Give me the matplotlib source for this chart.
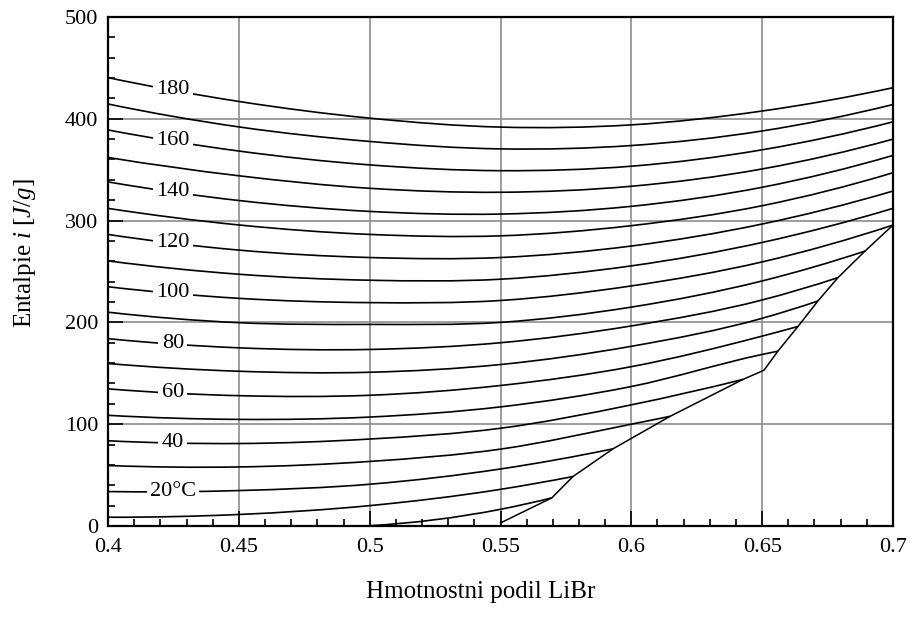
import numpy as np
import matplotlib
matplotlib.use("Agg")
import matplotlib.pyplot as plt
from matplotlib.ticker import MultipleLocator
from matplotlib.path import Path
from matplotlib.patches import PathPatch

plt.rcParams['font.family'] = ['Liberation Serif', 'DejaVu Serif']
plt.rcParams['mathtext.fontset'] = 'custom'
plt.rcParams['mathtext.rm'] = 'Liberation Serif'
plt.rcParams['mathtext.it'] = 'Liberation Serif:italic'

# mass fraction of LiBr where the enthalpy was read
conc = [0.40, 0.45, 0.50, 0.55, 0.60, 0.65, 0.70]

# isotherms, degC
temps = [180, 170, 160, 150, 140, 130, 120, 110, 100,
         90, 80, 70, 60, 50, 40, 30, 20, 10, 0]

nan = np.nan
# enthalpy [J/g] at conc, nan past the crystallization line
enthalpy = [
    [440.4, 417.0, 400.6, 391.8, 394.0, 407.6, 430.5],
    [414.5, 392.0, 377.7, 370.4, 373.7, 388.0, 414.0],
    [389.0, 368.3, 354.7, 349.0, 353.4, 369.5, 397.0],
    [362.0, 344.0, 331.7, 327.8, 333.7, 350.7, 380.0],
    [338.0, 319.7, 309.0, 306.4, 314.0, 332.7, 364.0],
    [312.0, 295.7, 286.4, 285.0, 295.0, 314.6, 347.0],
    [286.4, 271.0, 263.7, 263.7, 275.0, 296.6, 329.0],
    [260.4, 247.3, 241.4, 242.4, 255.5, 278.5, 312.0],
    [235.0, 223.6, 219.4, 221.5, 235.8, 259.4, nan],
    [210.0, 199.7, 198.0, 200.0, 215.0, 240.7, nan],
    [184.0, 175.0, 173.4, 180.0, 196.5, 222.0, nan],
    [159.6, 152.0, 151.0, 158.6, 176.5, 204.0, nan],
    [134.7, 128.0, 128.4, 138.0, 156.5, 186.5, nan],
    [108.7, 104.7, 107.0, 117.0, 137.0, 168.5, nan],
    [83.7, 81.0, 85.4, 96.0, 119.0, nan, nan],
    [59.4, 58.0, 63.4, 75.5, 100.0, nan, nan],
    [33.8, 34.8, 41.0, 56.0, nan, nan, nan],
    [8.6, 11.3, 20.0, 36.0, nan, nan, nan],
    [nan, nan, 0.3, 16.4, nan, nan, nan],
]

# crystallization line
cryst_x = [0.550, 0.5696, 0.5777, 0.593, 0.6148, 0.6427, 0.6507,
           0.656, 0.6637, 0.6713, 0.679, 0.6893, 0.700]
cryst_y = [3.0, 27.6, 48.6, 75.8, 107.7, 144.0, 153.0,
           171.7, 196.0, 221.0, 244.0, 270.0, 295.6]

# where each isotherm ends on the crystallization line (index into cryst_x)
end_idx = {100: 12, 90: 11, 80: 10, 70: 9, 60: 8, 50: 7, 40: 5,
           30: 4, 20: 3, 10: 2, 0: 1}

labels = {180: "180", 160: "160", 140: "140", 120: "120", 100: "100",
          80: "80", 60: "60", 40: "40", 20: "20°C"}


def smooth_path(xs, ys):
    # cubic bezier through the points (hermite tangents), drawn by matplotlib
    x = np.asarray(xs, float)
    y = np.asarray(ys, float)
    n = len(x)
    h = np.diff(x)
    d = np.diff(y) / h
    m = np.zeros(n)
    if n == 2:
        m[:] = d[0]
    else:
        for i in range(1, n - 1):
            m[i] = (d[i] * h[i - 1] + d[i - 1] * h[i]) / (h[i - 1] + h[i])
        m[0] = ((2 * h[0] + h[1]) * d[0] - h[0] * d[1]) / (h[0] + h[1])
        m[-1] = ((2 * h[-1] + h[-2]) * d[-1] - h[-1] * d[-2]) / (h[-1] + h[-2])
    verts = [(x[0], y[0])]
    codes = [Path.MOVETO]
    for i in range(n - 1):
        verts += [(x[i] + h[i] / 3, y[i] + m[i] * h[i] / 3),
                  (x[i + 1] - h[i] / 3, y[i + 1] - m[i + 1] * h[i] / 3),
                  (x[i + 1], y[i + 1])]
        codes += [Path.CURVE4] * 3
    return Path(verts, codes)


fig = plt.figure(figsize=(9.10, 6.21), dpi=100)
ax = fig.add_axes([0.1187, 0.153, 0.8626, 0.8197])

for t, row in zip(temps, enthalpy):
    row = np.array(row, dtype=float)
    ok = ~np.isnan(row)
    xs = list(np.array(conc)[ok])
    ys = list(row[ok])
    if t in end_idx:
        xs.append(cryst_x[end_idx[t]])
        ys.append(cryst_y[end_idx[t]])
    ax.add_patch(PathPatch(smooth_path(xs, ys), fc='none', ec='black',
                           lw=1.2, zorder=3))
    if t in labels:
        lx = 0.4248
        ly = np.interp(lx, xs, ys)
        ax.text(lx, ly, labels[t], fontsize=16, ha='center', va='center',
                zorder=4,
                bbox=dict(boxstyle='square,pad=0.15', fc='white', ec='none'))

ax.plot(cryst_x, cryst_y, color='black', lw=1.1, zorder=3)

ax.set_xlim(0.4, 0.7)
ax.set_ylim(0, 500)
ax.xaxis.set_minor_locator(MultipleLocator(0.01))
ax.yaxis.set_major_locator(MultipleLocator(100))
ax.yaxis.set_minor_locator(MultipleLocator(20))
ax.set_xticks(conc)
ax.set_xticklabels(["0.4", "0.45", "0.5", "0.55", "0.6", "0.65", "0.7"])
ax.grid(True, which='major', color='#8c8c8c', lw=1.2, zorder=1)
ax.tick_params(which='both', direction='in', top=False, right=False,
               labelsize=16, width=1.2)
ax.tick_params(which='major', length=11, pad=7)
ax.tick_params(axis='x', which='major', pad=9)
ax.tick_params(which='minor', length=5)
for s in ax.spines.values():
    s.set_linewidth(1.6)
    s.set_zorder(5)

fig.text(0.528, 0.047, "Hmotnostni podil LiBr", fontsize=18,
         ha='center', va='center')
fig.text(0.027, 0.593, r"Entalpie $\mathit{i\ [J/g]}$", fontsize=18,
         ha='center', va='center', rotation=90)

fig.savefig("out.png", dpi=100)
